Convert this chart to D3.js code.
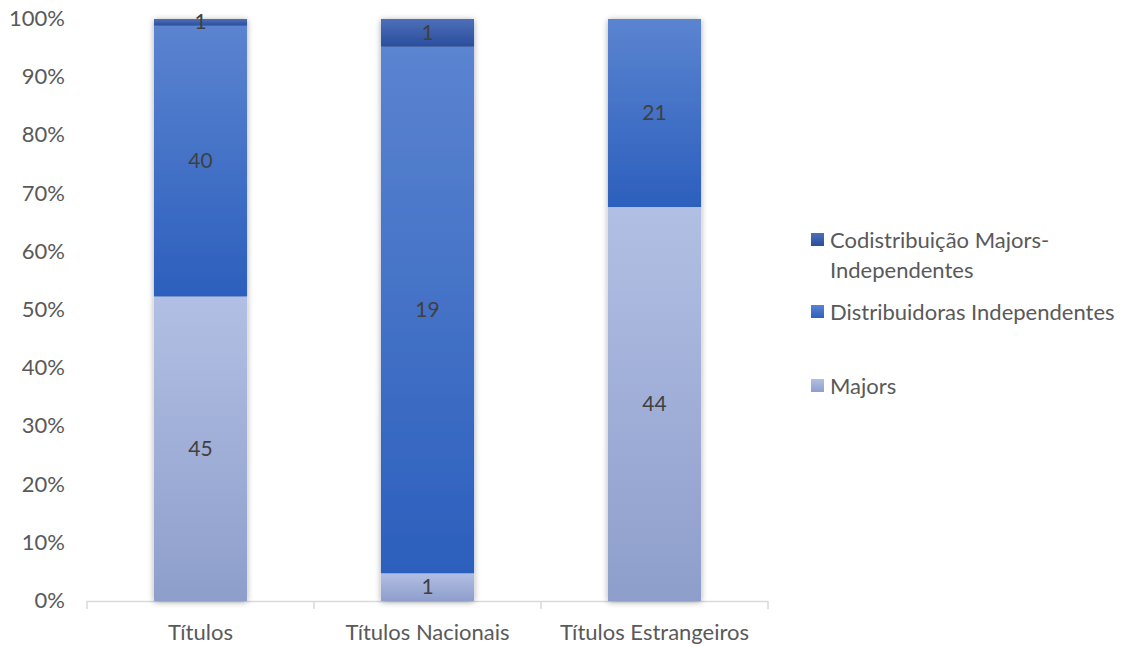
<!DOCTYPE html>
<html>
<head>
<meta charset="utf-8">
<script src="https://cdn.jsdelivr.net/npm/d3@7"></script>
<style>
  body { margin: 0; background: #fff; }
  text { font-family: Lato, "Open Sans", sans-serif; }
</style>
</head>
<body>
<svg id="chart" width="1127" height="646"></svg>
<script>
const categories = ['Títulos', 'Títulos Nacionais', 'Títulos Estrangeiros'];
const seriesNames = ['Majors', 'Distribuidoras Independentes', 'Codistribuição Majors-Independentes'];
const majors = [45, 1, 44];
const independentes = [40, 19, 21];
const codistribuicao = [1, 1, 0];
const yTicks = [0, 0.1, 0.2, 0.3, 0.4, 0.5, 0.6, 0.7, 0.8, 0.9, 1];

// gradient colours per series (top, bottom)
const colors = [
  ['#b2bfe4', '#8e9ecb'],
  ['#5b84d0', '#2c5fbd'],
  ['#4d6fb8', '#2a4e9c']
];

const rows = categories.map((c, i) => ({
  cat: c, s0: majors[i], s1: independentes[i], s2: codistribuicao[i]
}));
const keys = ['s0', 's1', 's2'];
const stacked = d3.stack().keys(keys).offset(d3.stackOffsetExpand)(rows);

const svg = d3.select('#chart');
const margin = { left: 87, right: 768, top: 19, bottom: 601 };

const x = d3.scaleBand().domain(categories).range([margin.left, margin.right]).paddingInner(0).paddingOuter(0);
const y = d3.scaleLinear().domain([0, 1]).range([margin.bottom, margin.top]);
const barW = x.bandwidth() * 0.41;

const defs = svg.append('defs');
colors.forEach((c, i) => {
  const g = defs.append('linearGradient').attr('id', 'grad' + i)
    .attr('x1', 0).attr('y1', 0).attr('x2', 0).attr('y2', 1);
  g.append('stop').attr('offset', '0%').attr('stop-color', c[0]);
  g.append('stop').attr('offset', '100%').attr('stop-color', c[1]);
});
const f = defs.append('filter').attr('id', 'shadow').attr('x', '-20%').attr('y', '-5%').attr('width', '140%').attr('height', '110%');
f.append('feGaussianBlur').attr('in', 'SourceAlpha').attr('stdDeviation', 3).attr('result', 'b');
f.append('feOffset').attr('in', 'b').attr('dx', 0).attr('dy', 1).attr('result', 'o');
f.append('feComponentTransfer').attr('in', 'o').attr('result', 'o2')
  .append('feFuncA').attr('type', 'linear').attr('slope', 0.35);
const m = f.append('feMerge');
m.append('feMergeNode').attr('in', 'o2');
m.append('feMergeNode').attr('in', 'SourceGraphic');

// y tick labels
svg.append('g').selectAll('text').data(yTicks).enter().append('text')
  .attr('x', 65).attr('y', d => y(d) + 7)
  .attr('text-anchor', 'end')
  .attr('font-size', 22).attr('fill', '#595959')
  .text(d => Math.round(d * 100) + '%');

// x axis line and ticks
svg.append('line').attr('x1', margin.left).attr('x2', margin.right)
  .attr('y1', margin.bottom + 0.5).attr('y2', margin.bottom + 0.5)
  .attr('stroke', '#d9d9d9').attr('stroke-width', 1.5);
const tickXs = categories.map(c => x(c)).concat([x(categories[categories.length - 1]) + x.bandwidth()]);
svg.append('g').selectAll('line').data(tickXs).enter().append('line')
  .attr('x1', d => d).attr('x2', d => d)
  .attr('y1', margin.bottom).attr('y2', margin.bottom + 8)
  .attr('stroke', '#d9d9d9').attr('stroke-width', 1.5);

// bars
const barsG = svg.append('g').attr('filter', 'url(#shadow)');
stacked.forEach((layer, si) => {
  barsG.selectAll('.r' + si).data(layer).enter().append('rect')
    .attr('x', d => x(d.data.cat) + (x.bandwidth() - barW) / 2)
    .attr('width', barW)
    .attr('y', d => y(d[1]))
    .attr('height', d => y(d[0]) - y(d[1]))
    .attr('fill', 'url(#grad' + si + ')');
});

// data labels
stacked.forEach((layer, si) => {
  svg.append('g').selectAll('text').data(layer.filter(d => d.data[keys[si]] > 0)).enter().append('text')
    .attr('x', d => x(d.data.cat) + x.bandwidth() / 2)
    .attr('y', d => y((d[0] + d[1]) / 2) + 7)
    .attr('text-anchor', 'middle')
    .attr('font-size', 21).attr('fill', '#404040')
    .text(d => d.data[keys[si]]);
});

// x labels
svg.append('g').selectAll('text').data(categories).enter().append('text')
  .attr('x', d => x(d) + x.bandwidth() / 2)
  .attr('y', 640)
  .attr('text-anchor', 'middle')
  .attr('font-size', 22).attr('fill', '#595959')
  .text(d => d);

// legend
const legendItems = [
  { i: 2, lines: ['Codistribuição Majors-', 'Independentes'], y: 240 },
  { i: 1, lines: ['Distribuidoras Independentes'], y: 312 },
  { i: 0, lines: ['Majors'], y: 386 }
];
const lg = svg.append('g');
legendItems.forEach(it => {
  lg.append('rect').attr('x', 811).attr('y', it.y - 7).attr('width', 13).attr('height', 13)
    .attr('fill', 'url(#grad' + it.i + ')');
  it.lines.forEach((t, k) => {
    lg.append('text').attr('x', 830).attr('y', it.y + 8 + k * 30)
      .attr('font-size', 22).attr('fill', '#595959').text(t);
  });
});
</script>
</body>
</html>
